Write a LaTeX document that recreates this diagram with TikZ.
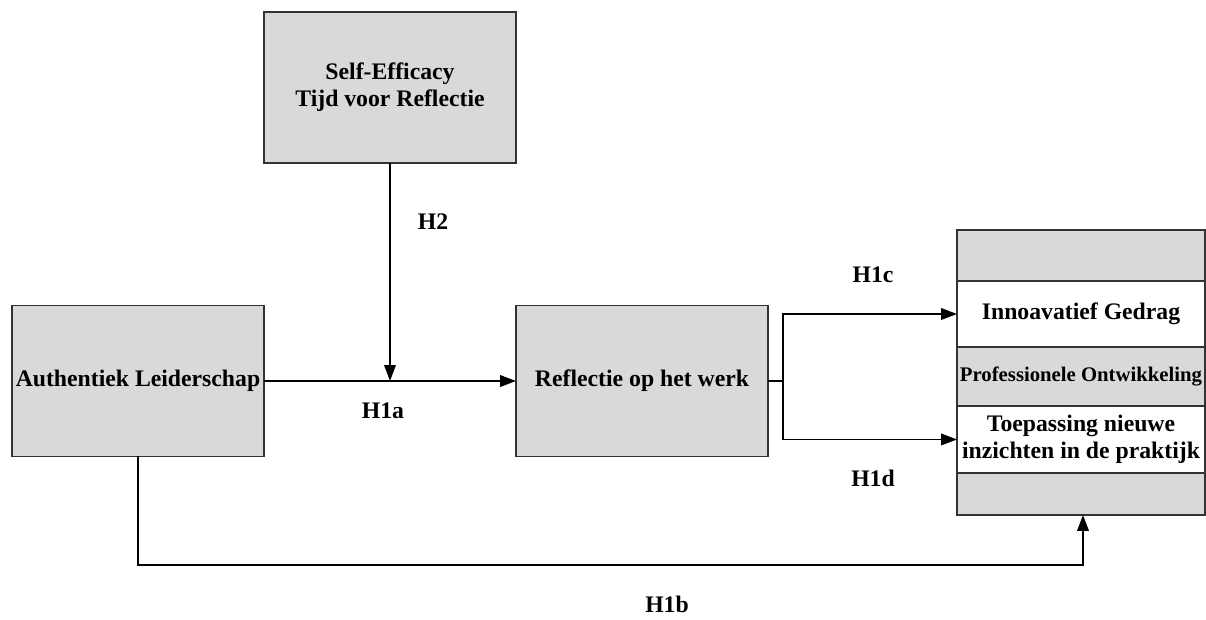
\documentclass[tikz,border=0pt]{standalone}
\usepackage{fontspec}
\setmainfont{Liberation Serif}
\usetikzlibrary{arrows.meta,calc,positioning}
\definecolor{boxgrey}{gray}{0.85}

\begin{document}
\begin{tikzpicture}[x=0.02cm,y=-0.02cm,font=\bfseries\fontsize{13.5pt}{15.2pt}\selectfont]

\tikzset{greybox/.style={fill=boxgrey,draw=black!80,line width=.8pt,inner sep=0pt,outer sep=0pt,minimum width=5.04cm,minimum height=3.02cm,align=center},
greyrow/.style={fill=boxgrey,draw=black!80,line width=.8pt,inner sep=0pt,outer sep=0pt,minimum width=4.96cm,align=center},
whiterow/.style={fill=white,draw=black!80,line width=.8pt,inner sep=0pt,outer sep=0pt,minimum width=4.96cm,align=center},
hyplink/.style={line width=1.1pt,-{Triangle[length=9pt,width=6.5pt]}}}

\useasboundingbox (0,0) rectangle (1206,619);

% Boxes
\node[greybox] (self) at (390,87.5) {Self-Efficacy\\Tijd voor Reflectie};
\node[greybox] (lead) at (138,381) {Authentiek Leiderschap};
\node[greybox] (refl) at (642,381) {Reflectie op het werk};

% Outcome box
\node[greyrow,anchor=north,minimum height=1.02cm] (out1) at (1081,230) {};
\node[whiterow,below=0pt of out1,minimum height=1.32cm] (innov) {Innoavatief Gedrag};
\node[greyrow,below=0pt of innov,minimum height=1.18cm,font=\bfseries\fontsize{11.8pt}{13pt}\selectfont] (prof) {Professionele Ontwikkeling};
\node[whiterow,below=0pt of prof,minimum height=1.34cm] (appl) {Toepassing nieuwe\\inzichten in de praktijk};
\node[greyrow,below=0pt of appl,minimum height=0.84cm] (out5) {};

% Connectors
\coordinate (split) at (783,381);
\coordinate (low) at (1083,565);
\draw[hyplink] (lead) -- (refl);
\draw[hyplink] (self) -- (self |- lead);
\draw[line width=1.1pt] (refl) -- (split);
\draw[hyplink] (split) |- (innov);
\draw[hyplink] (split) |- (appl);
\draw[hyplink] (lead.south) |- (low) -- (low |- out5.south);

% Hypothesis labels
\node (h2) at (433,222) {H2};
\node (h1a) at (383,411) {H1a};
\node (h1c) at (873,275) {H1c};
\node (h1d) at (873,478) {H1d};
\node (h1b) at (667,604) {H1b};

\end{tikzpicture}
\end{document}
